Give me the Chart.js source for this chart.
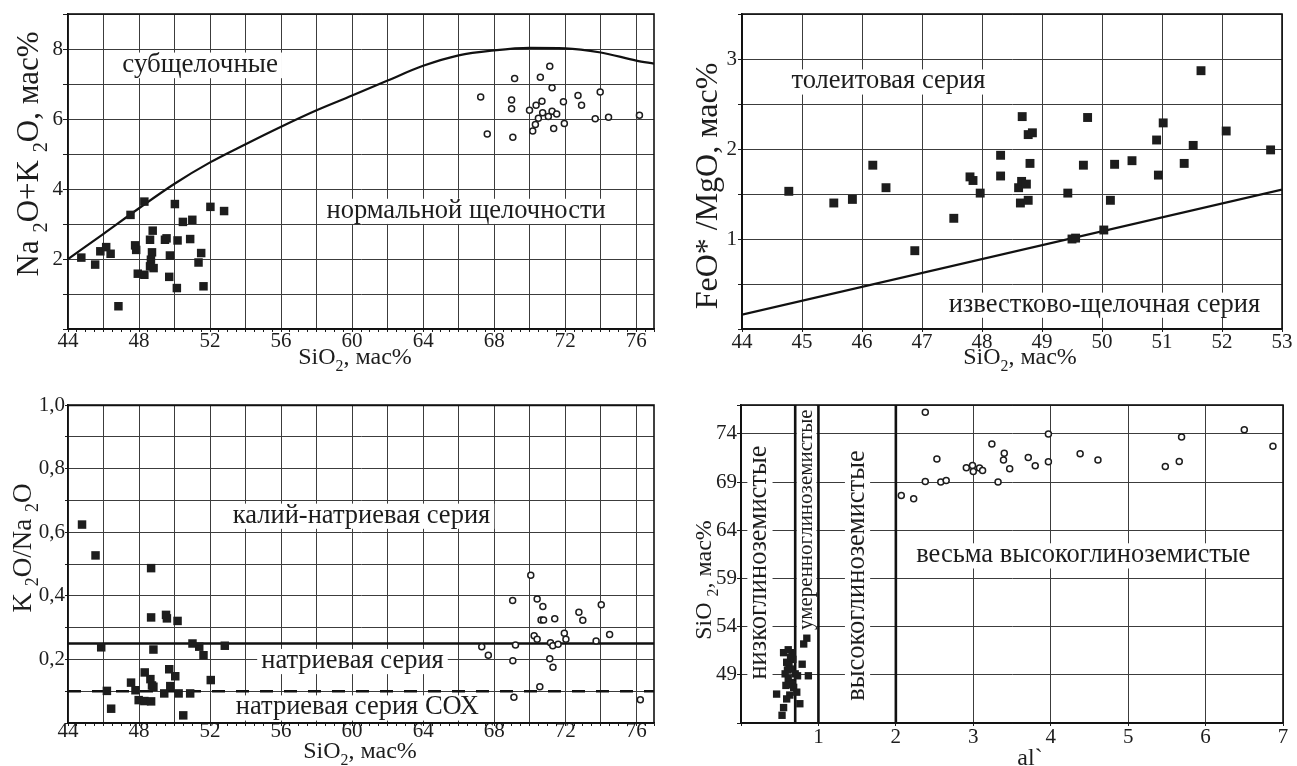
<!DOCTYPE html>
<html lang="ru">
<head>
<meta charset="utf-8">
<title>Петрохимические диаграммы</title>
<script src="https://cdn.jsdelivr.net/npm/chart.js@4.4.1/dist/chart.umd.min.js"></script>
<style>
  html, body { margin: 0; padding: 0; background: #fff; }
  #sheet { position: relative; width: 1297px; height: 766px; overflow: hidden; }
  #sheet canvas { position: absolute; }
</style>
</head>
<body>
<div id="sheet">
  <canvas id="tas" width="660" height="383" style="left:0;top:0"></canvas>
  <canvas id="femg" width="637" height="383" style="left:660px;top:0"></canvas>
  <canvas id="kna" width="660" height="383" style="left:0;top:383px"></canvas>
  <canvas id="alsi" width="637" height="383" style="left:660px;top:383px"></canvas>
</div>
<script>
// ---------- Na2O+K2O vs SiO2 ----------
const tasBasSi  = [44.75, 45.53, 45.82, 46.15, 46.4, 46.84, 47.52, 47.78, 47.84, 47.93, 48.3, 48.3, 48.62, 48.77, 48.73, 48.67, 48.62, 48.82, 49.46, 49.55, 49.74, 49.7, 50.02, 50.17, 50.13, 50.47, 51.0, 50.88, 51.5, 51.35, 51.63, 52.02, 52.79];
const tasBasAlk = [2.04, 1.84, 2.22, 2.34, 2.15, 0.65, 3.26, 2.39, 2.26, 1.58, 3.64, 1.55, 2.55, 2.81, 2.19, 1.98, 1.79, 1.74, 2.55, 2.59, 2.1, 1.49, 3.57, 2.53, 1.17, 3.06, 3.12, 2.57, 2.17, 1.9, 1.22, 3.49, 3.37];
const tasGrSi   = [67.24, 67.61, 68.98, 68.98, 69.05, 69.15, 69.99, 70.17, 70.32, 70.36, 70.49, 70.69, 70.73, 70.6, 71.05, 71.13, 71.26, 71.26, 71.35, 71.52, 71.9, 71.95, 72.72, 72.92, 73.69, 73.97, 74.44, 76.18];
const tasGrAlk  = [6.63, 5.57, 6.54, 6.29, 5.48, 7.16, 6.25, 5.66, 5.84, 6.39, 6.02, 6.51, 6.18, 7.19, 6.07, 7.51, 6.89, 6.22, 5.73, 6.14, 6.49, 5.87, 6.67, 6.39, 6.01, 6.77, 6.05, 6.11];
// граница субщелочных и нормальной щелочности
const tasLineSi  = [44, 46, 48, 50, 52, 54, 56, 58, 60, 62, 64, 66, 68, 70, 72, 74, 76, 77];
const tasLineAlk = [2.0, 2.72, 3.45, 4.15, 4.76, 5.28, 5.78, 6.25, 6.67, 7.1, 7.52, 7.82, 7.96, 8.03, 8.02, 7.9, 7.67, 7.58];

// ---------- FeO*/MgO vs SiO2 ----------
const femgSi    = [44.78, 45.53, 45.84, 46.18, 46.4, 46.88, 47.53, 47.8, 47.85, 47.97, 48.31, 48.31, 48.67, 48.77, 48.84, 48.8, 48.61, 48.66, 48.74, 48.64, 48.77, 49.43, 49.5, 49.56, 49.69, 49.76, 50.03, 50.14, 50.21, 50.5, 50.91, 50.94, 51.02, 51.37, 51.52, 51.65, 52.07, 52.81];
const femgRatio = [1.53, 1.40, 1.44, 1.82, 1.57, 0.87, 1.23, 1.69, 1.65, 1.51, 1.93, 1.70, 2.36, 2.16, 2.18, 1.84, 1.57, 1.64, 1.61, 1.40, 1.43, 1.51, 1.00, 1.01, 1.82, 2.35, 1.10, 1.43, 1.83, 1.87, 2.10, 1.71, 2.29, 1.84, 2.04, 2.87, 2.20, 1.99];
// граница толеитовой и известково-щелочной серий
const femgLineSi    = [44, 53];
const femgLineRatio = [0.16, 1.55];

// ---------- K2O/Na2O vs SiO2 ----------
const knaBasSi  = [44.79, 45.55, 45.87, 46.19, 46.43, 47.55, 47.8, 47.98, 48.32, 48.3, 48.64, 48.73, 48.81, 48.68, 48.68, 48.68, 48.81, 49.42, 49.52, 49.57, 49.7, 49.76, 50.04, 50.17, 50.23, 50.49, 50.88, 51.01, 51.39, 51.63, 52.04, 52.83];
const knaBasRat = [0.624, 0.527, 0.238, 0.101, 0.045, 0.127, 0.103, 0.072, 0.159, 0.069, 0.138, 0.118, 0.231, 0.487, 0.332, 0.068, 0.114, 0.093, 0.34, 0.329, 0.169, 0.116, 0.147, 0.321, 0.093, 0.024, 0.093, 0.25, 0.24, 0.213, 0.135, 0.243];
const knaGrSi   = [67.3, 67.67, 69.04, 69.05, 69.11, 69.2, 70.06, 70.25, 70.42, 70.42, 70.57, 70.74, 70.64, 70.78, 71.13, 71.17, 71.3, 71.31, 71.41, 71.6, 71.95, 72.04, 72.77, 72.99, 73.74, 74.03, 74.5, 76.23];
const knaGrRat  = [0.24, 0.213, 0.385, 0.196, 0.081, 0.245, 0.465, 0.274, 0.39, 0.263, 0.114, 0.366, 0.324, 0.324, 0.202, 0.252, 0.243, 0.175, 0.328, 0.248, 0.282, 0.263, 0.348, 0.323, 0.258, 0.372, 0.278, 0.073];
const knaLimits = [1.0, 0.25];   // сплошные границы
const knaMorb   = 0.1;           // пунктир: натриевая серия СОХ

// ---------- SiO2 vs al' ----------
const alBasAl = [0.81, 0.85, 0.55, 0.66, 0.61, 0.64, 0.67, 0.59, 0.79, 0.62, 0.64, 0.60, 0.57, 0.70, 0.87, 0.73, 0.61, 0.64, 0.66, 0.58, 0.68, 0.72, 0.46, 0.63, 0.59, 0.76, 0.55, 0.53];
const alBasSi = [52.2, 52.8, 51.3, 51.3, 51.6, 50.8, 50.6, 50.3, 50.1, 50.0, 49.6, 49.5, 49.1, 49.1, 48.9, 48.9, 48.6, 48.2, 48.0, 47.9, 47.7, 47.2, 47.0, 46.9, 46.5, 46.0, 45.6, 44.8];
const alGrAl  = [2.38, 2.07, 2.23, 2.38, 2.53, 2.58, 2.65, 2.91, 2.99, 3.0, 3.08, 3.12, 3.24, 3.32, 3.40, 3.39, 3.47, 3.71, 3.80, 3.97, 3.97, 4.38, 4.61, 5.48, 5.66, 5.69, 6.50, 6.87];
const alGrSi  = [76.24, 67.6, 67.27, 69.06, 71.4, 69.0, 69.17, 70.5, 70.72, 70.1, 70.45, 70.2, 72.96, 69.0, 72.0, 71.28, 70.38, 71.55, 70.69, 74.0, 71.1, 71.93, 71.28, 70.62, 71.14, 73.69, 74.44, 72.72];
const alBounds = [0.7, 1, 2];

// ---------- ticks ----------
const siTicks    = [];
for (let v = 44; v <= 77; v += 0.5) siTicks.push(v);
const siGrid     = [46, 48, 50, 52, 54, 56, 58, 60, 62, 64, 66, 68, 70, 72, 74, 76];
const siLabelAt  = [44, 48, 52, 56, 60, 64, 68, 72, 76];
const siLabels   = ['44', '48', '52', '56', '60', '64', '68', '72', '76'];
const alkTicks   = [0, 1, 2, 3, 4, 5, 6, 7, 8, 9];
const alkLabelAt = [2, 4, 6, 8];
const alkLabels  = ['2', '4', '6', '8'];
const femgXTicks  = [44, 45, 46, 47, 48, 49, 50, 51, 52, 53];
const femgXLabels = ['44', '45', '46', '47', '48', '49', '50', '51', '52', '53'];
const femgYTicks  = [0, 0.5, 1, 1.5, 2, 2.5, 3, 3.5];
const femgYLabelAt = [1, 2, 3];
const femgYLabels  = ['1', '2', '3'];
const knaYTicks   = [0, 0.1, 0.2, 0.3, 0.4, 0.5, 0.6, 0.7, 0.8, 0.9, 1.0];
const knaYLabelAt = [0.2, 0.4, 0.6, 0.8, 1.0];
const knaYLabels  = ['0,2', '0,4', '0,6', '0,8', '1,0'];
const alXTicks   = [0, 1, 2, 3, 4, 5, 6, 7];
const alXLabelAt = [1, 2, 3, 4, 5, 6, 7];
const alXLabels  = ['1', '2', '3', '4', '5', '6', '7'];
const alYTicks   = [44, 49, 54, 59, 64, 69, 74, 77];
const alYLabelAt = [49, 54, 59, 64, 69, 74];
const alYLabels  = ['49', '54', '59', '64', '69', '74'];

const INK = '#1d1d1d';
const GRID = '#3c3c3c';
const SERIF = '"Liberation Serif", "Times New Roman", serif';
Chart.defaults.font.family = SERIF;
Chart.defaults.color = INK;

const near = (a, b) => Math.abs(a - b) < 1e-6;
const pts = (xs, ys) => xs.map((x, i) => ({x, y: ys[i]}));

function axis(pos, c) {
  return {
    type: 'linear', position: pos, min: c.min, max: c.max,
    afterBuildTicks: s => { s.ticks = c.ticks.map(v => ({value: v})); },
    afterFit: s => { if (pos === 'left') s.width = c.size; else s.height = c.size; },
    grid: {
      color: ctx => (!ctx.tick || c.grid.some(g => near(g, ctx.tick.value))) ? GRID : 'rgba(0,0,0,0)',
      tickColor: INK, tickLength: c.tick, lineWidth: 1
    },
    border: {color: '#111', width: 1.6},
    ticks: {
      autoSkip: false, maxRotation: 0, minRotation: 0, padding: c.pad,
      font: {family: SERIF, size: 21, lineHeight: 1},
      callback: v => { const i = c.labelAt.findIndex(a => near(a, v)); return i < 0 ? '' : c.labels[i]; }
    }
  };
}

const squares = (data, r) => ({data, pointStyle: 'rect', pointRadius: r, backgroundColor: INK, borderColor: INK, borderWidth: 0});
const rings = (data, r) => ({data, pointStyle: 'circle', pointRadius: r, backgroundColor: '#fff', borderColor: INK, borderWidth: 1.5});
const rule = (data, w, dash) => ({data, showLine: true, pointRadius: 0, borderColor: '#111', borderWidth: w, borderDash: dash || [], fill: false});

// region names with white boxes, placed in data units
const regionLabels = {
  id: 'regionLabels',
  beforeDatasetsDraw(chart, args, opts) {
    const {ctx, scales} = chart;
    (opts.items || []).forEach(it => {
      const size = it.size || 26.5;
      ctx.save();
      ctx.translate(scales.x.getPixelForValue(it.at[0]), scales.y.getPixelForValue(it.at[1]));
      if (it.vertical) ctx.rotate(-Math.PI / 2);
      ctx.font = size + 'px ' + SERIF;
      const w = ctx.measureText(it.text).width;
      const base = 0.23 * size;
      ctx.fillStyle = '#fff';
      ctx.fillRect(-w / 2 - 4, base - 0.72 * size, w + 8, 0.95 * size);
      ctx.fillStyle = INK;
      ctx.textAlign = 'center';
      ctx.textBaseline = 'alphabetic';
      ctx.fillText(it.text, 0, base);
      ctx.restore();
    });
  }
};

// axis titles with lowered indices, placed in canvas pixels
const axisTitles = {
  id: 'axisTitles',
  afterDraw(chart, args, opts) {
    const ctx = chart.ctx;
    (opts.items || []).forEach(t => {
      const segs = t.parts.map(p => ({text: p[0], sub: p[1] === 'sub', size: p[1] === 'sub' ? t.size * 0.66 : t.size}));
      let total = 0;
      segs.forEach(s => { ctx.font = s.size + 'px ' + SERIF; s.w = ctx.measureText(s.text).width; total += s.w; });
      ctx.save();
      ctx.translate(t.pos[0], t.pos[1]);
      if (t.vertical) ctx.rotate(-Math.PI / 2);
      ctx.fillStyle = INK;
      ctx.textBaseline = 'alphabetic';
      let x = -total / 2;
      const base = 0.33 * t.size;
      segs.forEach(s => {
        ctx.font = s.size + 'px ' + SERIF;
        ctx.fillText(s.text, x, s.sub ? base + 0.28 * t.size : base);
        x += s.w;
      });
      ctx.restore();
    });
  }
};

const frame = {
  id: 'frame',
  afterDatasetsDraw(chart) {
    const {ctx, chartArea: a} = chart;
    ctx.save();
    ctx.strokeStyle = '#111';
    ctx.lineWidth = 1.6;
    ctx.strokeRect(a.left, a.top, a.right - a.left, a.bottom - a.top);
    ctx.restore();
  }
};

function panel(id, cfg) {
  return new Chart(document.getElementById(id), {
    type: 'scatter',
    data: {datasets: cfg.datasets},
    options: {
      responsive: false, animation: false, devicePixelRatio: 1, events: [],
      layout: {padding: cfg.padding},
      scales: {x: cfg.x, y: cfg.y},
      plugins: {
        legend: {display: false}, tooltip: {enabled: false},
        regionLabels: {items: cfg.labels},
        axisTitles: {items: cfg.titles}
      }
    },
    plugins: [regionLabels, axisTitles, frame]
  });
}

panel('tas', {
  padding: {left: 0, top: 14, right: 3, bottom: 0},
  x: axis('bottom', {min: 44, max: 77, ticks: siTicks, grid: siGrid, labelAt: siLabelAt, labels: siLabels, size: 54, tick: 3, pad: -1}),
  y: axis('left', {min: 0, max: 9, ticks: alkTicks, grid: alkTicks, labelAt: alkLabelAt, labels: alkLabels, size: 68, tick: 5, pad: 0}),
  datasets: [
    squares(pts(tasBasSi, tasBasAlk), 6),
    rings(pts(tasGrSi, tasGrAlk), 3),
    Object.assign(rule(pts(tasLineSi, tasLineAlk), 2.2), {tension: 0.4, cubicInterpolationMode: 'monotone'})
  ],
  labels: [
    {text: 'субщелочные', at: [51.44, 7.52], size: 27},
    {text: 'нормальной щелочности', at: [66.42, 3.35]}
  ],
  titles: [
    {parts: [['Na '], ['2', 'sub'], ['O+K '], ['2', 'sub'], ['O, мас%']], size: 31, pos: [28, 154], vertical: true},
    {parts: [['SiO'], ['2', 'sub'], [', мас%']], size: 24, pos: [355, 356]}
  ]
});

panel('femg', {
  padding: {left: 0, top: 14, right: 15, bottom: 0},
  x: axis('bottom', {min: 44, max: 53, ticks: femgXTicks, grid: femgXTicks, labelAt: femgXTicks, labels: femgXLabels, size: 54, tick: 3, pad: 0}),
  y: axis('left', {min: 0, max: 3.5, ticks: femgYTicks, grid: femgYTicks, labelAt: femgYLabelAt, labels: femgYLabels, size: 82, tick: 4, pad: 1}),
  datasets: [
    squares(pts(femgSi, femgRatio), 6.3),
    rule(pts(femgLineSi, femgLineRatio), 2.2)
  ],
  labels: [
    {text: 'толеитовая серия', at: [46.44, 2.74]},
    {text: 'известково-щелочная серия', at: [50.04, 0.26]}
  ],
  titles: [
    {parts: [['FeO* /MgO, мас%']], size: 32, pos: [46, 186], vertical: true},
    {parts: [['SiO'], ['2', 'sub'], [', мас%']], size: 24, pos: [360, 356]}
  ]
});

panel('kna', {
  padding: {left: 0, top: 22, right: 3, bottom: 0},
  x: axis('bottom', {min: 44, max: 77, ticks: siTicks, grid: siGrid, labelAt: siLabelAt, labels: siLabels, size: 43, tick: 3, pad: -5}),
  y: axis('left', {min: 0, max: 1, ticks: knaYTicks, grid: knaYTicks, labelAt: knaYLabelAt, labels: knaYLabels, size: 68, tick: 3, pad: 0}),
  datasets: [
    squares(pts(knaBasSi, knaBasRat), 6),
    rings(pts(knaGrSi, knaGrRat), 3),
    ...knaLimits.map(v => rule([{x: 44, y: v}, {x: 77, y: v}], 2.6)),
    rule([{x: 44, y: knaMorb}, {x: 77, y: knaMorb}], 2.6, [13, 11])
  ],
  labels: [
    {text: 'калий-натриевая серия', at: [60.53, 0.649]},
    {text: 'натриевая серия', at: [60.02, 0.192]},
    {text: 'натриевая серия СОХ', at: [60.29, 0.046]}
  ],
  titles: [
    {parts: [['K '], ['2', 'sub'], ['O/Na '], ['2', 'sub'], ['O']], size: 27, pos: [22, 165], vertical: true},
    {parts: [['SiO'], ['2', 'sub'], [', мас%']], size: 24, pos: [360, 367]}
  ]
});

panel('alsi', {
  padding: {left: 0, top: 22, right: 14, bottom: 0},
  x: axis('bottom', {min: 0, max: 7, ticks: alXTicks, grid: alXTicks, labelAt: alXLabelAt, labels: alXLabels, size: 43, tick: 3, pad: 1}),
  y: axis('left', {min: 44, max: 77, ticks: alYTicks, grid: alYTicks, labelAt: alYLabelAt, labels: alYLabels, size: 81, tick: 4, pad: 0}),
  datasets: [
    squares(pts(alBasAl, alBasSi), 5.2),
    rings(pts(alGrAl, alGrSi), 3),
    ...alBounds.map(v => rule([{x: v, y: 44}, {x: v, y: 77}], 2.6))
  ],
  labels: [
    {text: 'низкоглиноземистые', at: [0.25, 60.65], vertical: true},
    {text: 'умеренноглиноземистые', at: [0.85, 65.1], vertical: true, size: 21},
    {text: 'высокоглиноземистые', at: [1.51, 59.3], vertical: true},
    {text: 'весьма высокоглиноземистые', at: [4.42, 61.3]}
  ],
  titles: [
    {parts: [['SiO '], ['2', 'sub'], [', мас%']], size: 24, pos: [43, 197], vertical: true},
    {parts: [['al`']], size: 24, pos: [370, 374]}
  ]
});
</script>
</body>
</html>
